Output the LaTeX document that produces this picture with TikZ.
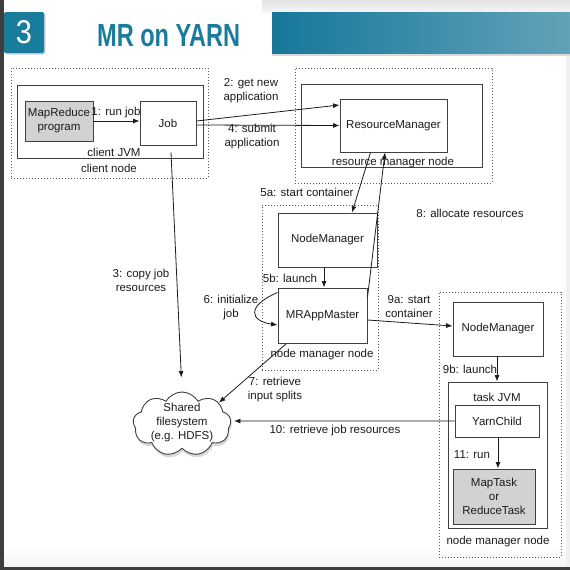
\documentclass[tikz,border=0pt]{standalone}
\usepackage{fontspec}
\setmainfont{Liberation Sans}
\usetikzlibrary{arrows.meta,shapes.symbols,shadows,calc}
\definecolor{tealc}{HTML}{1A7C9C}
\definecolor{barL}{HTML}{16779A}
\definecolor{barR}{HTML}{62A3B8}
\definecolor{darkstrip}{HTML}{3E3E3E}
\definecolor{txt}{HTML}{1C1C1C}
\definecolor{linegray}{HTML}{404040}
\definecolor{dotgray}{HTML}{5A5A5A}
\definecolor{boxfill}{HTML}{D2D2D2}
\begin{document}
\begin{tikzpicture}[x=1pt,y=-1pt,
  font=\fontsize{11.5}{14}\selectfont,
  box/.style={draw=linegray, line width=0.9pt, fill=white, inner sep=0pt, align=center, text=txt},
  graybox/.style={box, fill=boxfill},
  dotbox/.style={draw=dotgray, line width=0.8pt, dash pattern=on 0.9pt off 2.1pt, inner sep=0pt},
  lbl/.style={align=center, inner sep=0pt, text=txt},
  arr/.style={draw=txt, line width=0.8pt, -{Latex[length=6.5pt,width=5pt]}}]
% background
\useasboundingbox (0,0) rectangle (570,570);
\fill[white] (0,0) rectangle (570,570);
\shade[top color=gray!22, bottom color=gray!8] (262,0) rectangle (570,12);
\shade[top color=white, bottom color=gray!8] (4,545) rectangle (570,567);
\fill[gray!12] (566,56) rectangle (570,567);
\fill[gray!30] (272,53) rectangle (570,56);
\shade[left color=barL, right color=barR] (272,12) rectangle (570,53);
\fill[darkstrip] (0,0) rectangle (4,570);
\fill[darkstrip] (0,567) rectangle (570,570);
% header
\node[fill=tealc, rounded corners=1.5pt, minimum width=40, minimum height=41, inner sep=0pt,
  drop shadow={opacity=0.35, shadow xshift=1.5pt, shadow yshift=-1.5pt}] (numbox) at (24,32.5)
  {\color{white}\resizebox{16pt}{23pt}{3}};
\node[text=tealc, anchor=west, inner sep=0pt] (title) at (97,36)
  {\resizebox{143pt}{22pt}{\bfseries MR on YARN}};

% client node
\node[dotbox, minimum width=197, minimum height=110] (clientnode) at (109.5,123) {};
\node[box, minimum width=186, minimum height=73] (clientjvm) at (110,121.5) {};
\node[graybox, minimum width=68, minimum height=40] (mrprog) at (59,121) {MapReduce\\program};
\node[box, minimum width=56, minimum height=44] (job) at (168,123) {Job};
\node[lbl] (ljvm) at (114,152) {client JVM};
\node[lbl] (lcn) at (109,168) {client node};
\node[lbl] (l1) at (116,113) {1: run job};

% resource manager node
\node[dotbox, minimum width=197, minimum height=115] (rmnode) at (393.5,125.5) {};
\node[box, minimum width=181, minimum height=83] (rmbox) at (391.5,125.5) {};
\node[box, minimum width=107, minimum height=53] (rm) at (393.5,125.5) {ResourceManager};
\node[lbl] (lrmn) at (393,163) {resource manager node};

% node manager node 1
\node[dotbox, minimum width=116, minimum height=165] (nmnode1) at (320,287.5) {};
\node[box, minimum width=99, minimum height=54] (nm1) at (327.5,240) {NodeManager};
\node[box, minimum width=89, minimum height=55] (mrapp) at (322.5,315.5) {MRAppMaster};
\node[lbl] (lnmn1) at (322,355) {node manager node};

% node manager node 2
\node[dotbox, minimum width=122, minimum height=265] (nmnode2) at (500,424.5) {};
\node[box, minimum width=90, minimum height=54] (nm2) at (498,329) {NodeManager};
\node[box, minimum width=99, minimum height=146] (taskjvm) at (497.5,455) {};
\node[lbl] (ltjvm) at (497,397) {task JVM};
\node[box, minimum width=84, minimum height=32] (yarnchild) at (497,421) {YarnChild};
\node[graybox, minimum width=82, minimum height=55] (maptask) at (494,496.5) {MapTask\\or\\ReduceTask};
\node[lbl] (lnmn2) at (498,542) {node manager node};

% shared filesystem
\node[cloud, cloud puffs=9, cloud puff arc=120, cloud ignores aspect, draw=linegray, fill=white,
  line width=0.9pt, minimum width=98, minimum height=64, inner sep=0pt,
  drop shadow={opacity=0.3, shadow xshift=1pt, shadow yshift=-3pt}] (cloud) at (182,424) {};
\node[lbl] (cloudtext) at (182,423) {Shared\\filesystem\\(e.g. HDFS)};

% labels
\node[lbl] (l2) at (251,90.5) {2: get new\\application};
\node[lbl] (l4) at (252,137) {4: submit\\application};
\node[lbl] (l3) at (141,280) {3: copy job\\resources};
\node[lbl] (l5a) at (307,192) {5a: start container};
\node[lbl] (l5b) at (290,278) {5b: launch};
\node[lbl] (l8) at (470,213) {8: allocate resources};
\node[lbl] (l6) at (231,307.5) {6: initialize\\job};
\node[lbl] (l7) at (275,390) {7: retrieve\\input splits};
\node[lbl] (l9a) at (409,307) {9a: start\\container};
\node[lbl] (l9b) at (470,369) {9b: launch};
\node[lbl] (l10) at (335,431) {10: retrieve job resources};
\node[lbl] (l11) at (472,455) {11: run};

% connectors
\draw[arr] (mrprog.east) -- (mrprog.east -| job.west);
\draw[arr] ($(job.east)+(0,-2)$) -- ($(rm.west)+(0,-20.5)$);
\draw[arr] ($(job.east)+(0,2)$) -- (rm.west);
\draw[arr, shorten >=14pt] ($(job.south)+(3,7)$) -- (cloud.north);
\draw[arr] ($(rm.south)+(-23,0)$) -- ($(nm1.north)+(24.5,0)$);
\draw[arr] ($(mrapp.north east)+(0,10)$) -- ($(rm.south)+(-8.5,0)$);
\draw[arr] ($(nm1.south)+(-3.5,0)$) -- ($(mrapp.north)+(1.5,0)$);
\draw[arr] ($(mrapp.west)+(0,-23)$) .. controls (246,306) and (250,321) .. ($(mrapp.west)+(0,9.5)$);
\draw[arr] ($(mrapp.south west)+(9,0)$) -- (cloud.30);
\draw[arr] ($(mrapp.east)+(0,4.5)$) -- ($(nm2.west)+(0,-3)$);
\draw[arr] ($(nm2.south)+(-1,0)$) -- ($(taskjvm.north)+(-0.5,0)$);
\draw[arr] ($(yarnchild.south)+(1,0)$) -- ($(maptask.north)+(4,0)$);
\draw[arr] (yarnchild.west) -- ($(cloud.east)+(3,-3)$);
\end{tikzpicture}
\end{document}
